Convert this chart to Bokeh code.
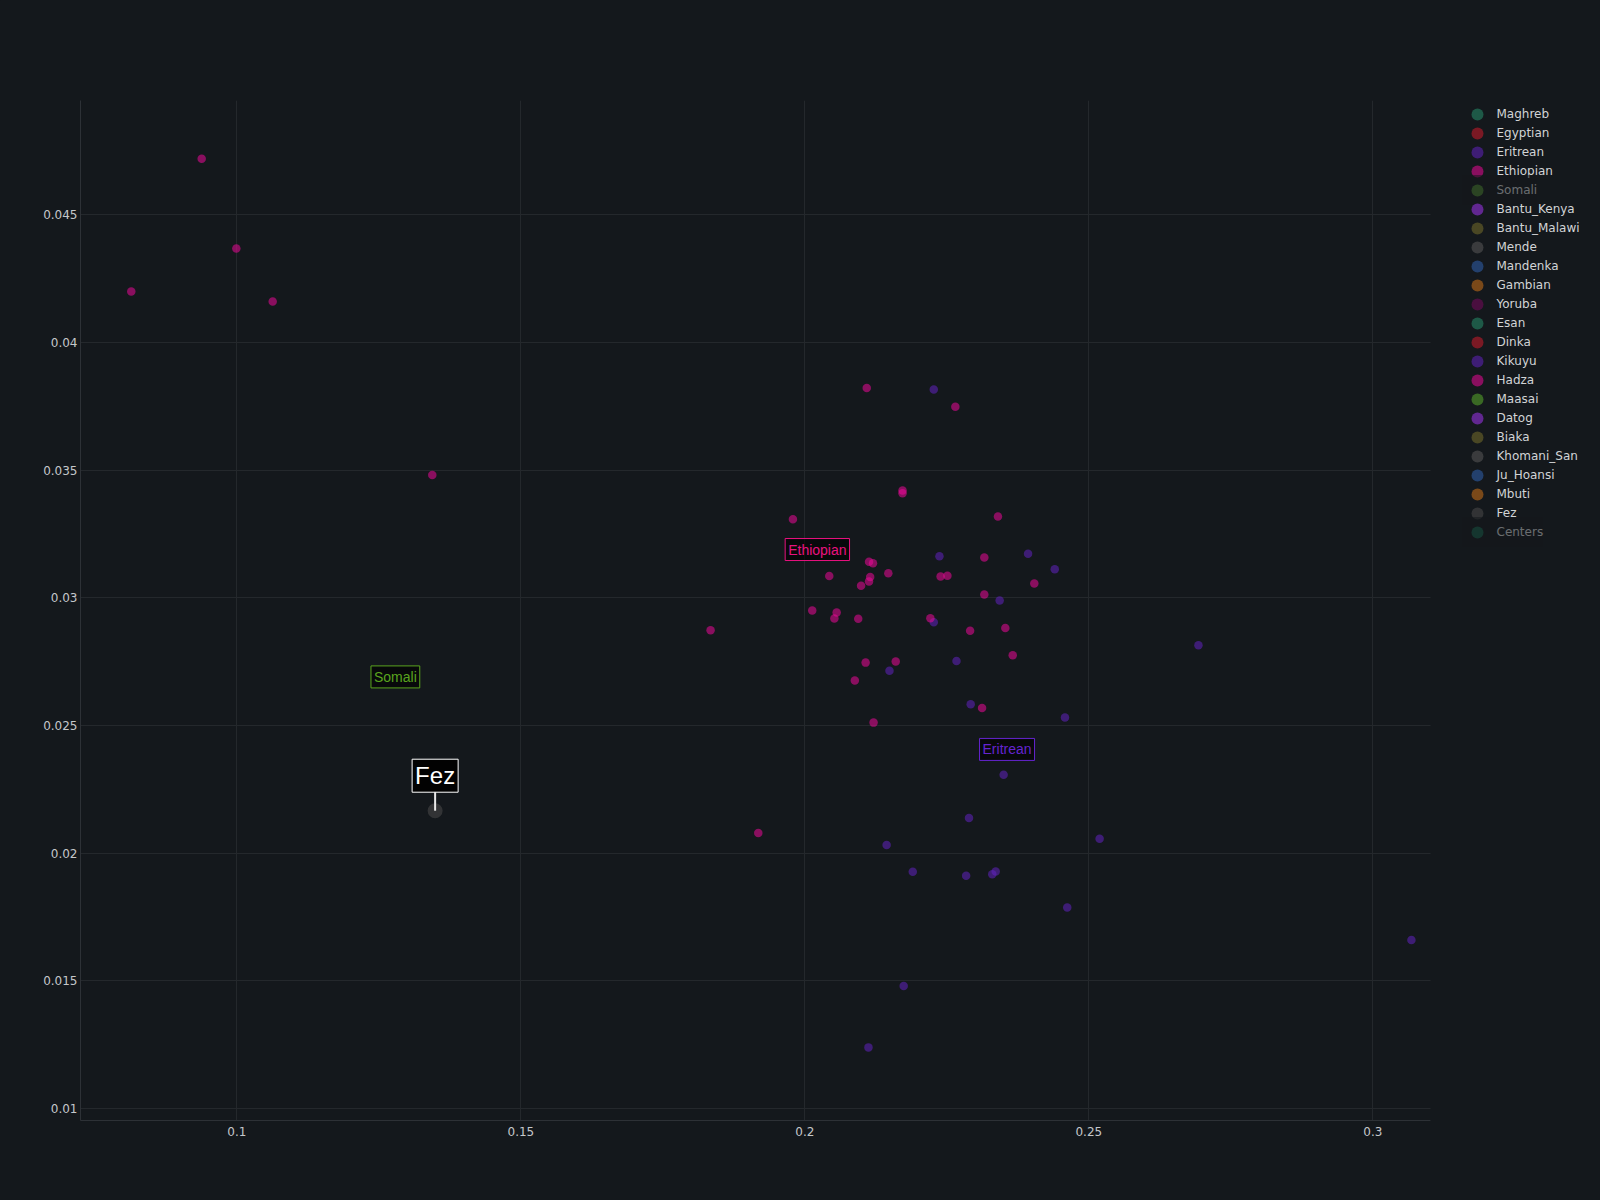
import numpy as np
from bokeh.plotting import figure
from bokeh.models import Legend, LegendItem, Label, Arrow, FixedTicker, Range1d, BoxAnnotation
from bokeh.embed import file_html
from bokeh.resources import INLINE

BG = "#14181c"

# ---------------- data ----------------
ethiopian_x = [0.0938, 0.0814, 0.0999, 0.1063, 0.1344, 0.2109, 0.2265, 0.1979, 0.2172, 0.2172,
               0.2340, 0.2316, 0.2113, 0.2120, 0.2043, 0.2115, 0.2113, 0.2147, 0.2099, 0.2239,
               0.2251, 0.2404, 0.2316, 0.2013, 0.2056, 0.2052, 0.2094, 0.2221, 0.1834, 0.2291,
               0.2353, 0.2366, 0.2160, 0.2107, 0.2088, 0.2312, 0.2121, 0.1918]
ethiopian_y = [0.0472, 0.0420, 0.04368, 0.0416, 0.03481, 0.03822, 0.03748, 0.03308, 0.03420, 0.03409,
               0.03318, 0.03158, 0.03141, 0.03135, 0.03085, 0.03081, 0.03064, 0.03096, 0.03047, 0.03083,
               0.03086, 0.03056, 0.03013, 0.02950, 0.02942, 0.02919, 0.02918, 0.02920, 0.02873, 0.02871,
               0.02882, 0.02775, 0.02750, 0.02746, 0.02676, 0.02568, 0.02511, 0.02079]

eritrean_x = [0.2227, 0.2237, 0.2393, 0.2440, 0.2343, 0.2227, 0.2267, 0.2149, 0.2693, 0.2292,
              0.2458, 0.2350, 0.2289, 0.2144, 0.2519, 0.2190, 0.2284, 0.2330, 0.2336, 0.2462,
              0.2174, 0.2112, 0.3068]
eritrean_y = [0.03816, 0.03163, 0.03172, 0.03112, 0.02989, 0.02904, 0.02752, 0.02714, 0.02814, 0.02583,
              0.02531, 0.02307, 0.02137, 0.02032, 0.02056, 0.01927, 0.01911, 0.01917, 0.01928, 0.01787,
              0.01479, 0.01239, 0.01660]

fez_x = [0.1349]
fez_y = [0.02166]

groups = ["Maghreb", "Egyptian", "Eritrean", "Ethiopian", "Somali", "Bantu_Kenya", "Bantu_Malawi",
          "Mende", "Mandenka", "Gambian", "Yoruba", "Esan", "Dinka", "Kikuyu", "Hadza", "Maasai",
          "Datog", "Biaka", "Khomani_San", "Ju_Hoansi", "Mbuti", "Fez", "Centers"]
group_colors = ["#26906c", "#ce1b2c", "#6023c0", "#eb0998", "#72ce3d", "#a035f0", "#766f2c",
                "#59595a", "#2f62b1", "#cd7318", "#76095d", "#26906c", "#ce1b2c", "#6023c0", "#eb0998",
                "#59ad2c", "#a035f0", "#766f2c", "#59595a", "#2f62b1", "#cd7318", "#4a4a4a", "#1b946c"]
hidden_groups = ["Somali", "Centers"]

annot_text = ["Ethiopian", "Eritrean", "Somali"]
annot_x = [0.2022, 0.2356, 0.1279]
annot_y = [0.03189, 0.02406, 0.0269]
annot_colors = ["#e8127f", "#6524d0", "#5aa41e"]

x_ticks = [0.1, 0.15, 0.2, 0.25, 0.3]
x_tick_labels = ["0.1", "0.15", "0.2", "0.25", "0.3"]
y_ticks = [0.01, 0.015, 0.02, 0.025, 0.03, 0.035, 0.04, 0.045]
y_tick_labels = ["0.01", "0.015", "0.02", "0.025", "0.03", "0.035", "0.04", "0.045"]

x_min, x_plot_max = 0.07246, 0.31016
y_min, y_max = 0.009526, 0.049477

# ---------------- figure ----------------
PLOT_W = 1350              # width of the visible plotting area
FW, FH = 1512, 1020        # frame also hosts the legend column on the right
BL, BT, BB = 80, 100, 72
x_max = x_min + (x_plot_max - x_min) * FW / PLOT_W

p = figure(frame_width=FW, frame_height=FH,
           min_border_left=BL, min_border_right=0, min_border_top=BT, min_border_bottom=BB,
           x_range=Range1d(x_min, x_max), y_range=Range1d(y_min, y_max),
           output_backend="svg", toolbar_location=None,
           background_fill_color=BG, border_fill_color=BG, outline_line_color=None)

for ax, ticks, labels, stand in ((p.xaxis[0], x_ticks, x_tick_labels, 6), (p.yaxis[0], y_ticks, y_tick_labels, 3)):
    ax.ticker = FixedTicker(ticks=ticks)
    ax.major_label_overrides = {t: l for t, l in zip(ticks, labels)}
    ax.major_tick_in = 0
    ax.major_tick_out = 0
    ax.minor_tick_in = 0
    ax.minor_tick_out = 0
    ax.major_tick_line_color = None
    ax.minor_tick_line_color = None
    ax.axis_line_color = "#2d3136"
    ax.axis_line_width = 1
    ax.major_label_standoff = stand
    ax.major_label_text_color = "#c4c7ca"
    ax.major_label_text_font = "DejaVu Sans"
    ax.major_label_text_font_size = "12px"
p.xaxis[0].bounds = (x_min, x_plot_max)

p.xgrid.grid_line_color = "#24282c"
p.ygrid.grid_line_color = "#24282c"

# blank out the legend column (gridlines stop at the plotting area's right edge)
p.add_layout(BoxAnnotation(left=x_plot_max, fill_color=BG, fill_alpha=1.0, line_color=None))

data_for = {
    "Ethiopian": (ethiopian_x, ethiopian_y),
    "Eritrean": (eritrean_x, eritrean_y),
    "Fez": (fez_x, fez_y),
}
NO_POINTS = (np.array([np.nan]), np.array([np.nan]))   # groups with nothing in view

renderers = []
for name, col in zip(groups, group_colors):
    xs, ys = data_for.get(name, NO_POINTS)
    size = 15 if name == "Fez" else 8.5
    r = p.scatter(x=xs, y=ys, size=size, fill_color=col, fill_alpha=0.55,
                  line_color=None, marker="circle")
    if name in hidden_groups:
        r.visible = False
    renderers.append(r)

# group annotations
for t, ax_, ay_, c in zip(annot_text, annot_x, annot_y, annot_colors):
    p.add_layout(Label(x=ax_, y=ay_, text=t, text_align="center", text_baseline="middle",
                       text_font="Liberation Sans", text_font_size="14px", text_color=c,
                       background_fill_color="black", background_fill_alpha=0.6,
                       border_line_color=c, border_line_width=1, padding=3))

# Fez callout
px_y = (y_max - y_min) / FH
p.add_layout(Arrow(x_start=fez_x[0], y_start=fez_y[0] + 19 * px_y, x_end=fez_x[0], y_end=fez_y[0],
                   end=None, line_color="#e8e8e8", line_width=2))
p.add_layout(Label(x=fez_x[0], y=fez_y[0], y_offset=35, text="Fez", text_align="center",
                   text_baseline="middle", text_font="Liberation Sans", text_font_size="24px",
                   text_color="white", background_fill_color="black", background_fill_alpha=0.9,
                   border_line_color="white", border_line_width=1, padding=3))

# ---------------- legend column (one entry per legend, 19 px pitch) ----------------
ROW_PITCH = 18.97
FIRST_ROW = 114.3          # page y of first entry centre
GLYPH = 30
LEG_X = 1381.5             # from frame left
for i, (name, r) in enumerate(zip(groups, renderers)):
    top = FIRST_ROW + i * ROW_PITCH - GLYPH / 2 - BT
    leg = Legend(items=[LegendItem(label=name, renderers=[r])],
                 location=(LEG_X, FH - top - GLYPH),
                 glyph_height=GLYPH, glyph_width=GLYPH, label_height=19, spacing=0,
                 padding=0, margin=0, label_standoff=5,
                 label_text_font="DejaVu Sans", label_text_font_size="12px",
                 label_text_color="#d2d4d6", label_text_baseline="middle",
                 background_fill_alpha=0, border_line_alpha=0,
                 click_policy="hide", inactive_fill_color=BG, inactive_fill_alpha=0.55)
    p.add_layout(leg)

html = file_html(p, INLINE, title="Fez PCA")
html = html.replace("</head>", "<style>html,body{background:#14181c;}</style></head>", 1)
open("out.html", "w").write(html)
